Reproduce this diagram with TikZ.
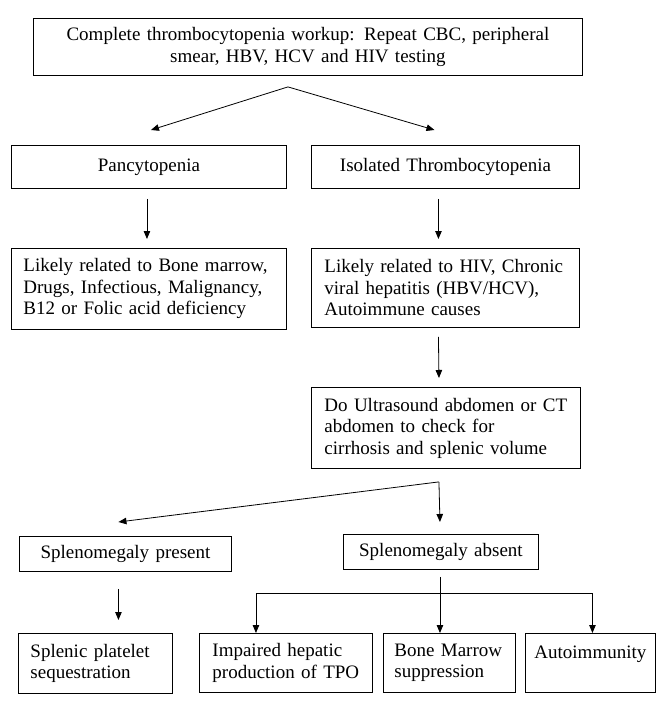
\documentclass[tikz,border=0pt]{standalone}
\usepackage{fontspec}
\setmainfont{Liberation Serif}
\usetikzlibrary{arrows.meta,calc}
\begin{document}
\begin{tikzpicture}[x=1pt,y=-1pt,
  box/.style={draw, line width=0.9pt, inner sep=0pt, anchor=north west,
    font=\fontsize{19}{21.5}\selectfont},
  conn/.style={line width=0.8pt},
  arr/.style={line width=0.8pt, -{Triangle[length=8pt,width=6.5pt]}}]
\useasboundingbox (0,0) rectangle (658,706);
\fill[white] (0,0) rectangle (658,706);
% boxes
\node[box, minimum width=549, minimum height=57, text width=545, align=center] (top) at (33,18)
  {Complete thrombocytopenia workup: Repeat CBC, peripheral\\smear, HBV, HCV and HIV testing};
\node[box, minimum width=275, minimum height=43, text width=265, align=center] (pan) at (11,145) {Pancytopenia};
\node[box, minimum width=268, minimum height=43, text width=260, align=center] (iso) at (311,145) {Isolated Thrombocytopenia};
\node[box, minimum width=275, minimum height=81, text width=251, align=left] (lik1) at (11,248)
  {\mbox{Likely related to Bone marrow,}\\\mbox{Drugs, Infectious, Malignancy,}\\\mbox{B12 or Folic acid deficiency}};
\node[box, minimum width=268, minimum height=79, text width=242, align=left] (lik2) at (311,248)
  {\mbox{Likely related to HIV, Chronic}\\\mbox{viral hepatitis (HBV/HCV),}\\\mbox{Autoimmune causes}};
\node[box, minimum width=269, minimum height=81, text width=243, align=left] (us) at (311,387)
  {\mbox{Do Ultrasound abdomen or CT}\\\mbox{abdomen to check for}\\\mbox{cirrhosis and splenic volume}};
\node[box, minimum width=212, minimum height=35, text width=205, align=center] (pres) at (19,536) {Splenomegaly present};
\node[box, minimum width=195, minimum height=35, text width=188, align=center] (abs) at (343,534) {Splenomegaly absent};
\node[box, minimum width=154, minimum height=60, text width=130, align=left] (spl) at (18,633)
  {\mbox{Splenic platelet}\\\mbox{sequestration}};
\node[box, minimum width=173, minimum height=59, text width=147, align=left] (imp) at (199,633)
  {\mbox{Impaired hepatic}\\\mbox{production of TPO}};
\node[box, minimum width=132, minimum height=59, text width=110, align=left] (bm) at (383,633)
  {\mbox{Bone Marrow}\\\mbox{suppression}};
\node[box, minimum width=130, minimum height=59, text width=112, align=left] (aut) at (525,633)
  {\mbox{Autoimmunity}\\\mbox{}};
% connectors
\coordinate (t1) at ($(top.south)+(-20,11)$);
\draw[arr] (t1) -- ([xshift=2,yshift=15]pan.north);
\draw[arr] (t1) -- ([xshift=-11,yshift=15]iso.north);
\draw[arr] ([xshift=-2,yshift=-10]pan.south) -- ([xshift=-2,yshift=9]lik1.north);
\draw[arr] ([xshift=-7,yshift=-10]iso.south) -- ([xshift=-7,yshift=9]lik2.north);
\draw[arr] ([xshift=-7,yshift=-9]lik2.south) -- ([xshift=-7,yshift=9]us.north);
\coordinate (t2) at ([xshift=-7,yshift=-13]us.south);
\draw[arr] (t2) -- ([xshift=-7,yshift=14]pres.north);
\draw[arr] (t2) -- ([xshift=-1,yshift=12]abs.north);
\draw[arr] ([xshift=-7,yshift=-17]pres.south) -- ([xshift=23,yshift=13]spl.north);
\coordinate (t3) at ([xshift=-1,yshift=-7]abs.south);
\coordinate (hl) at ([xshift=-30,yshift=40]imp.north);
\coordinate (hr) at ([xshift=2,yshift=40]aut.north);
\draw[arr] (t3) -- (t3 |- bm.north);
\draw[conn] (hl) -- (hr);
\draw[arr] (hl) -- (hl |- imp.north);
\draw[arr] (hr) -- (hr |- aut.north);
\end{tikzpicture}
\end{document}
